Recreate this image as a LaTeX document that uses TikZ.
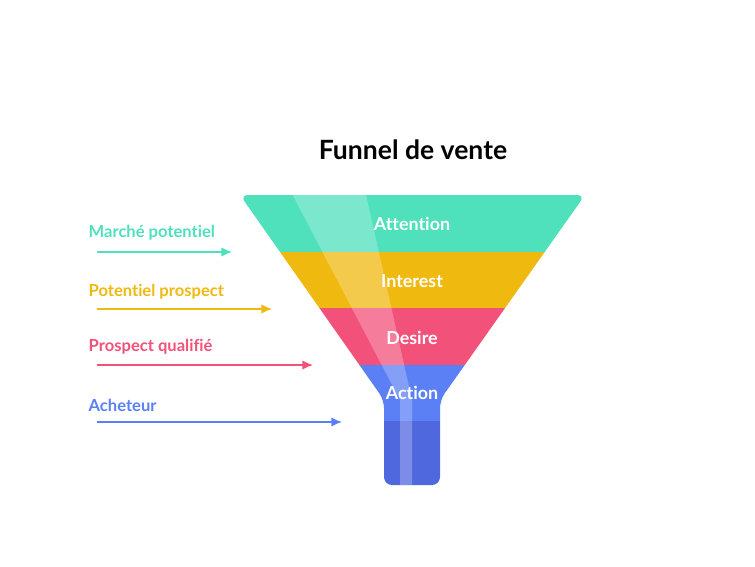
\documentclass[tikz,border=0pt]{standalone}
\usepackage{fontspec}
\setmainfont[Ligatures=NoCommon]{Lato}
\usetikzlibrary{arrows.meta}
\definecolor{teal1}{HTML}{4FE0BC}
\definecolor{yellow1}{HTML}{F0B90F}
\definecolor{pink1}{HTML}{F2527A}
\definecolor{blue1}{HTML}{5B80F5}
\definecolor{blue2}{HTML}{5068DE}

\begin{document}
\begin{tikzpicture}[x=0.0265cm,y=-0.0265cm,
    lbl/.style={anchor=west, font=\fontsize{12.5}{14}\selectfont\bfseries},
    band/.style={text=white, font=\fontsize{13.5}{15}\selectfont\bfseries},
    arr/.style={-{Latex[length=8pt,width=7pt]}, line width=1pt}]
        \useasboundingbox (0,0) rectangle (755,566);
        \node[font=\fontsize{20}{22}\selectfont\bfseries](title) at (413,150) {Funnel de vente};
        % funnel bands
        \begin{scope}
            \clip[rounded corners=6pt] (240,195) -- (585,195) -- (440,400) -- (440,485) -- (384,485) -- (384,400) -- cycle;
            \fill[teal1] (200,190) rectangle (620,252);
            \fill[yellow1] (200,252) rectangle (620,308);
            \fill[pink1] (200,308) rectangle (620,365);
            \fill[blue1] (200,365) rectangle (620,421);
            \fill[blue2] (200,421) rectangle (620,490);
            \fill[white, opacity=0.25] (290,190) -- (365,190) -- (412,400) -- (412,490) -- (400,490) -- (400,400) -- cycle;
        \end{scope}
        \node[band](att) at (412,224) {Attention};
        \node[band](int) at (412,281) {Interest};
        \node[band](des) at (412,338) {Desire};
        \node[band](act) at (412,393) {Action};
        % left labels and arrows
        \node[lbl, text=teal1](l1) at (84,233) {Marché potentiel};
        \node[lbl, text=yellow1](l2) at (84,292) {Potentiel prospect};
        \node[lbl, text=pink1](l3) at (84,347) {Prospect qualifié};
        \node[lbl, text=blue1](l4) at (84,405) {Acheteur};
        \coordinate (s1) at (97,252);  \coordinate (e1) at (232,252);
        \coordinate (s2) at (97,309);  \coordinate (e2) at (272,309);
        \coordinate (s3) at (97,365);  \coordinate (e3) at (313,365);
        \coordinate (s4) at (97,422);  \coordinate (e4) at (342,422);
        \draw[arr, teal1] (s1) -- (e1);
        \draw[arr, yellow1] (s2) -- (e2);
        \draw[arr, pink1] (s3) -- (e3);
        \draw[arr, blue1] (s4) -- (e4);
\end{tikzpicture}
\end{document}
